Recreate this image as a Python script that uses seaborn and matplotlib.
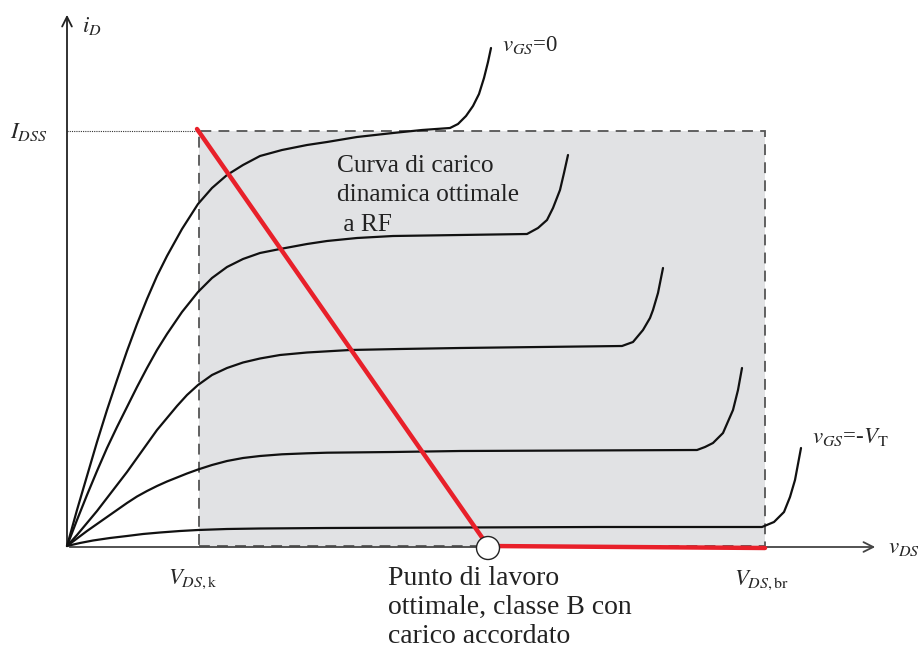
import numpy as np
import pandas as pd
import matplotlib
matplotlib.use("Agg")
import matplotlib.pyplot as plt
from matplotlib.patches import Rectangle, Circle
import seaborn as sns

# ---- data (drawing units: x = v_DS, y = i_D) ----
vgs0_x = [0, 10, 20, 30, 40, 50, 60, 70, 80, 90, 100, 115, 131, 145, 160, 176, 193, 215, 240,
          260, 290, 326, 355, 383, 391, 399, 406, 412, 417, 421, 424]
vgs0_y = [0, 36, 70, 104, 136, 166, 195, 222, 247, 270, 290, 317, 342, 358, 371, 381, 390, 396, 401,
          404, 409, 413, 416, 418, 422, 430, 440, 452, 468, 484, 498]
vgs1_x = [0, 10, 20, 30, 40, 50, 60, 70, 80, 90, 100, 115, 131, 145, 160, 176, 193, 213, 240,
          260, 290, 326, 393, 460, 471, 480, 486, 493, 497, 501]
vgs1_y = [0, 26, 51, 75, 98, 119, 139, 159, 178, 196, 212, 234, 254, 268, 279, 287, 293, 297, 302,
          305, 308, 310, 311, 312, 318, 326, 338, 356, 373, 391]
vgs2_x = [0, 10, 20, 30, 40, 50, 60, 70, 80, 90, 100, 110, 120, 131, 145, 160, 176, 193, 213, 240,
          283, 333, 393, 473, 555, 566, 576, 583, 586, 591, 596]
vgs2_y = [0, 11, 23, 35, 48, 61, 74, 88, 102, 116, 128, 140, 151, 161, 171, 178, 183.5, 187.5, 191, 193.5,
          196, 197, 198, 199, 200, 204, 216, 228, 236, 253, 278]
vgs3_x = [0, 10, 20, 30, 40, 50, 60, 70, 80, 90, 100, 110, 120, 131, 145, 160, 176, 193, 215, 240,
          260, 326, 393, 513, 630, 638, 646, 656, 666, 671, 675]
vgs3_y = [0, 7.5, 15, 22, 29, 36, 43, 49.5, 55, 60, 64.5, 68.5, 72.5, 76.5, 81, 85, 88, 90, 91.7, 92.7,
          93.3, 94, 95, 95.5, 96, 99, 103, 113, 136, 156, 178]
vgsT_x = [0, 13, 26, 43, 60, 76, 93, 113, 131, 160, 193, 260, 393, 533, 695, 707, 717, 723, 728, 734]
vgsT_y = [0, 3, 5.5, 8, 10, 12, 13.5, 15, 16, 17, 17.5, 18, 18.5, 19, 19, 24, 34, 49, 66, 98]

# operating region limits
v_knee = 132
v_br = 698
i_dss = 415
# optimal RF load line: (v_knee, i_dss) -> Q point -> (v_br, 0)
load_x = [130, 421, 698]
load_y = [417, 0, -2]
q_point = (421, -2)

labels_x = [r"$V_{DS,\mathrm{k}}$", r"$V_{DS,\mathrm{br}}$"]
label_iD = r"$i_D$"
label_idss = r"$I_{DSS}$"
label_vds = r"$v_{DS}$"
label_top = r"$v_{GS}$=0"
label_bottom = r"$v_{GS}$=-$V_{\mathrm{T}}$"
label_curve = "Curva di carico\ndinamica ottimale\n a RF"
label_q = "Punto di lavoro\nottimale, classe B con\ncarico accordato"

# ---- figure ----
sns.set_style("white")
plt.rcParams["font.family"] = ["Liberation Serif", "DejaVu Serif"]
plt.rcParams["mathtext.fontset"] = "stix"

fig = plt.figure(figsize=(9.18, 6.48), dpi=100)
ax = fig.add_axes([0, 0, 1, 1])
ax.set_xlim(-67, 851)
ax.set_ylim(-102, 546)
ax.axis("off")

# shaded region
ax.add_patch(Rectangle((v_knee, 0), v_br - v_knee, i_dss, facecolor="#e1e2e4",
                       edgecolor="#555555", lw=1.3, ls=(0, (6, 4)), zorder=1))
ax.plot([0, v_knee], [i_dss, i_dss], color="#333333", lw=0.8, ls=(0, (1, 1)), zorder=2)

# axes arrows
ax.annotate("", xy=(0, 534), xytext=(0, -1),
            arrowprops=dict(arrowstyle="->,head_length=0.7,head_width=0.35", lw=1.3, color="#222222"))
ax.annotate("", xy=(811, -1), xytext=(0, -1),
            arrowprops=dict(arrowstyle="->,head_length=0.7,head_width=0.35", lw=1.3, color="#444444"))

# characteristic curves
frames = []
for name, xs, ys in [("vgs0", vgs0_x, vgs0_y), ("vgs1", vgs1_x, vgs1_y),
                     ("vgs2", vgs2_x, vgs2_y), ("vgs3", vgs3_x, vgs3_y),
                     ("vgsT", vgsT_x, vgsT_y)]:
    frames.append(pd.DataFrame({"v": xs, "i": ys, "curve": name}))
df = pd.concat(frames, ignore_index=True)
sns.lineplot(data=df, x="v", y="i", units="curve", estimator=None, sort=False,
             color="#111111", lw=1.6, ax=ax, zorder=3, legend=False)

# load line
sns.lineplot(x=load_x, y=load_y, sort=False, estimator=None, color="#e8202a",
             lw=3.2, ax=ax, zorder=4, legend=False)
ax.add_patch(Circle(q_point, 11.5, facecolor="white", edgecolor="#222222", lw=1.0, zorder=5))

fm = 16.5
ax.text(15, 520, label_iD, fontsize=fm, va="center", ha="left")
ax.text(-57, 414, label_idss, fontsize=fm, va="center", ha="left")
ax.text(821, -1, label_vds, fontsize=fm, va="center", ha="left")
ax.text(435, 501, label_top, fontsize=fm, va="center", ha="left")
ax.text(745, 109, label_bottom, fontsize=fm, va="center", ha="left")
ax.text(v_knee - 6, -33, labels_x[0], fontsize=fm, va="center", ha="center")
ax.text(v_br - 3, -34, labels_x[1], fontsize=fm, va="center", ha="center")
ax.text(270, 391, label_curve, fontsize=18.3, va="top", ha="left", linespacing=1.44, color="#222222")
ax.text(321, -20, label_q, fontsize=20, va="top", ha="left", linespacing=1.22, color="#222222")

fig.savefig("out.png", dpi=100)
